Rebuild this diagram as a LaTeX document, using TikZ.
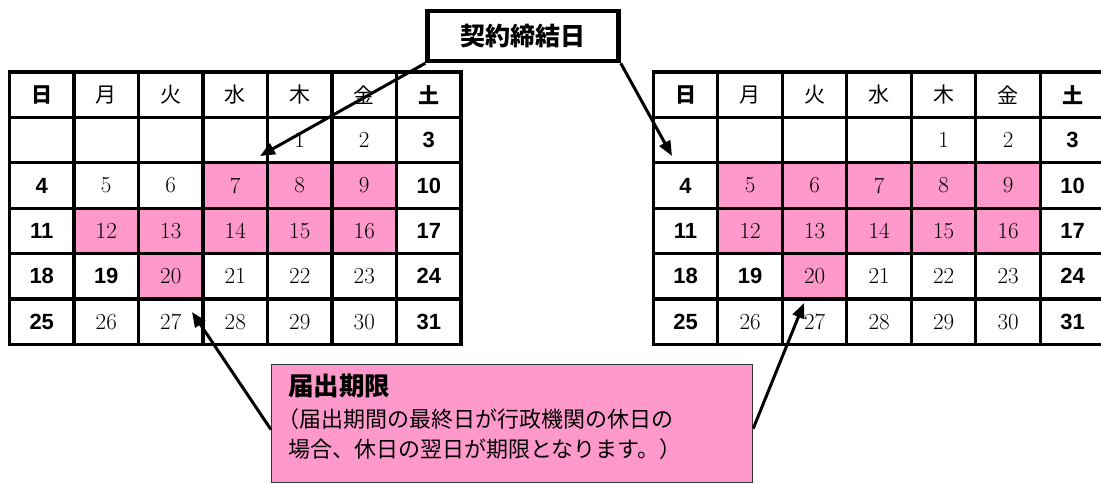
\documentclass[tikz,border=0pt]{standalone}
\usepackage{fontspec}
\usetikzlibrary{arrows.meta}
\newfontfamily\jp{Noto Sans CJK JP}
\newfontfamily\arb{Liberation Sans}
\definecolor{calpink}{HTML}{FF99CC}
\begin{document}
\begin{tikzpicture}[x=1pt,y=-1pt,
  gridline/.style={line width=3.2pt},
  num/.style={font=\fontsize{23}{23}\selectfont, inner sep=0pt},
  bnum/.style={font=\arb\bfseries\fontsize{22}{22}\selectfont, inner sep=0pt},
  hdr/.style={font=\jp\fontsize{21}{21}\selectfont, inner sep=0pt},
  bhdr/.style={font=\jp\bfseries\fontsize{21}{21}\selectfont, inner sep=0pt},
  arr/.style={line width=3pt, -{Triangle[length=15pt,width=12pt]}},
  jptext/.style={font=\jp\fontsize{22}{22}\selectfont, inner sep=0pt, anchor=west},
]
\useasboundingbox (0,0) rectangle (1101,483);
\def\cw{64.5}
\def\rh{45.4}
\def\yo{72}
% pink cells
\foreach \xo/\cells in {9.5/{3/2,4/2,5/2,1/3,2/3,3/3,4/3,5/3,2/4},
                        653.3/{1/2,2/2,3/2,4/2,5/2,1/3,2/3,3/3,4/3,5/3,2/4}}{
  \foreach \c/\r in \cells {
    \fill[calpink] ({\xo+\c*\cw},{\yo+\r*\rh}) rectangle ++(\cw,\rh);
  }
}
% grids
\foreach \xo in {9.5,653.3}{
  \foreach \i in {0,...,7} \draw[gridline] ({\xo+\i*\cw},{\yo-1.6}) -- ({\xo+\i*\cw},{\yo+6*\rh+1.6});
  \foreach \j in {0,...,6} \draw[gridline] ({\xo-1.6},{\yo+\j*\rh}) -- ({\xo+7*\cw+1.6},{\yo+\j*\rh});
}
% headers and days
\foreach \p/\xo in {L/9.5,R/653.3}{
  \foreach \c/\t in {0/日,1/月,2/火,3/水,4/木,5/金,6/土}{
    \ifnum\c=0 \def\hs{bhdr}\else\ifnum\c=6 \def\hs{bhdr}\else\def\hs{hdr}\fi\fi
    \node[\hs] (\p h\c) at ({\xo+\c*\cw+\cw/2},{\yo+\rh/2}) {\t};
  }
  \foreach \r in {1,...,5}{
    \foreach \c in {0,...,6}{
      \pgfmathtruncatemacro\d{7*(\r-1)+\c-3}
      \ifnum\d>0
        \def\ns{num}
        \ifnum\c=0 \def\ns{bnum}\fi
        \ifnum\c=6 \def\ns{bnum}\fi
        \ifnum\d=19 \def\ns{bnum}\fi
        \node[\ns] (\p\d) at ({\xo+\c*\cw+\cw/2},{\yo+\r*\rh+\rh/2}) {\d};
      \fi
    }
  }
}
% arrow tips
\coordinate (t1) at (260,156);
\coordinate (t2) at (672,156);
\coordinate (t3) at (192,312);
\coordinate (t4) at (804,303);
% top box
\node[draw, line width=4.5pt, fill=white, minimum width=191pt, minimum height=50pt,
      inner sep=0pt, font=\jp\bfseries\fontsize{25}{25}\selectfont] (kb) at (523,36) {契約締結日};
\draw[arr] (kb.south west) -- (t1);
\draw[arr] (kb.south east) -- (t2);
\node[draw=black!80, line width=1.2pt, fill=calpink, minimum width=481pt, minimum height=118pt,
      inner sep=0pt, anchor=north west] (fb) at (271,364) {};
\draw[arr] ([yshift=-6pt]fb.west) -- (t3);
\draw[arr] ([yshift=-5pt]fb.east) -- (t4);
\node[jptext, font=\jp\bfseries\fontsize{25.5}{25.5}\selectfont] (f1) at (288,386) {届出期限};
\node[jptext] (f2) at (277,419) {（届出期間の最終日が行政機関の休日の};
\node[jptext] (f3) at (288,449) {場合、休日の翌日が期限となります。）};
\end{tikzpicture}
\end{document}
